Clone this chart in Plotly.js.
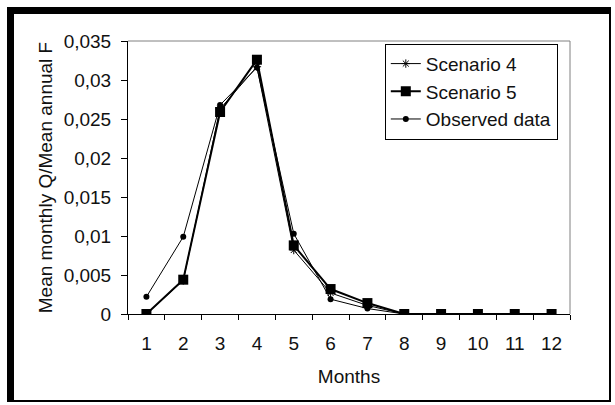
<!DOCTYPE html>
<html>
<head>
<meta charset="utf-8">
<script src="https://cdn.plot.ly/plotly-3.0.1.min.js"></script>
<style>
  html, body { margin: 0; padding: 0; background: #fff; }
  #wrap { position: relative; width: 615px; height: 405px; overflow: hidden; }
  #chart { position: absolute; left: 0; top: 0; width: 615px; height: 405px; }
  #frame { position: absolute; left: 7px; top: 7px; width: 604px; height: 395px; box-sizing: border-box;
           border-left: 7px solid #000; border-top: 7px solid #000; border-right: 2px solid #000; border-bottom: 2px solid #000;
           pointer-events: none; }
</style>
</head>
<body>
<div id="wrap">
  <div id="chart"></div>
  <div id="frame"></div>
</div>
<script>
const months = ["1","2","3","4","5","6","7","8","9","10","11","12"];
const scenario4 = [0, 0.0043, 0.0263, 0.0317, 0.0082, 0.0027, 0.0011, 0, 0, 0, 0, 0];
const scenario5 = [0, 0.0044, 0.0259, 0.0326, 0.0088, 0.0032, 0.0014, 0, 0, 0, 0, 0];
const observed  = [0.0022, 0.0099, 0.0268, 0.0316, 0.0103, 0.0019, 0.0007, 0, 0, 0, 0, 0];
const yTickVals = [0, 0.005, 0.01, 0.015, 0.02, 0.025, 0.03, 0.035];
const yTickText = ["0", "0,005", "0,01", "0,015", "0,02", "0,025", "0,03", "0,035"];

const font = {family: "Liberation Sans, Arial, sans-serif", size: 19, color: "#111"};

const traces = [
  {x: months, y: scenario4, name: "Scenario 4", type: "scatter", mode: "lines+markers",
   legendgroup: "a",
   line: {color: "#000", width: 1},
   marker: {symbol: "asterisk-open", size: 7, color: "#000", line: {color: "#000", width: 1}}},
  {x: months, y: scenario5, name: "Scenario 5", type: "scatter", mode: "lines+markers",
   legendgroup: "b",
   line: {color: "#000", width: 2},
   marker: {symbol: "square", size: 10, color: "#000"}},
  {x: months, y: observed, name: "Observed data", type: "scatter", mode: "lines+markers",
   legendgroup: "c",
   line: {color: "#000", width: 1},
   marker: {symbol: "circle", size: 6, color: "#000"}}
];

const layout = {
  width: 615, height: 405,
  margin: {l: 128, r: 45, t: 41, b: 91, pad: 0},
  paper_bgcolor: "#fff", plot_bgcolor: "#fff",
  font: font,
  showlegend: true,
  legend: {x: 0.581, xanchor: "left", y: 0.99, yanchor: "top",
           bgcolor: "#fff", bordercolor: "#000", borderwidth: 1,
           font: font, tracegroupgap: 5, traceorder: "normal"},
  xaxis: {type: "category", categoryorder: "array", categoryarray: months,
          range: [-0.5, 11.5], tickson: "boundaries",
          ticks: "outside", ticklen: 5, tickwidth: 1, tickcolor: "#000",
          showline: true, linecolor: "#000", linewidth: 1, showgrid: false, zeroline: false,
          tickfont: font, ticklabelstandoff: 12, fixedrange: true,
          title: {text: "Months", font: font, standoff: 16}},
  yaxis: {range: [0, 0.035], tickvals: yTickVals, ticktext: yTickText,
          ticks: "outside", ticklen: 6, tickwidth: 1, tickcolor: "#000",
          showline: true, linecolor: "#000", linewidth: 1, showgrid: false, zeroline: false,
          tickfont: font, ticklabelstandoff: 6, fixedrange: true,
          title: {text: "Mean monthly Q/Mean annual F", font: font, standoff: 6}},
  shapes: [
    {type: "line", xref: "paper", yref: "paper", x0: 0, x1: 1, y0: 1, y1: 1, line: {color: "#808080", width: 1}},
    {type: "line", xref: "paper", yref: "paper", x0: 1, x1: 1, y0: 0, y1: 1, line: {color: "#808080", width: 1}}
  ]
};

Plotly.newPlot("chart", traces, layout, {staticPlot: true, displayModeBar: false});
</script>
</body>
</html>
